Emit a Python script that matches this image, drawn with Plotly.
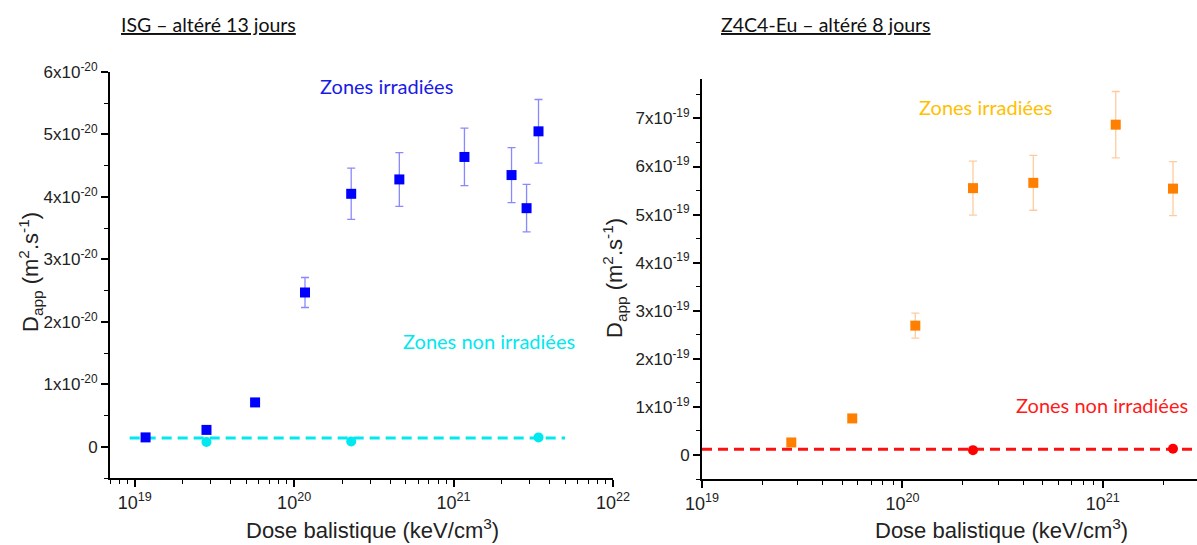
import numpy as np
import plotly.graph_objects as go

# ---------------- data ----------------
# Left panel: ISG - altéré 13 jours
isg_irr_dose = [1.17e19, 2.82e19, 5.69e19, 1.17e20, 2.28e20, 4.57e20, 1.17e21, 2.31e21, 2.87e21, 3.41e21]
isg_irr_d = [0.15e-20, 0.27e-20, 0.71e-20, 2.47e-20, 4.05e-20, 4.28e-20, 4.64e-20, 4.35e-20, 3.82e-20, 5.05e-20]
isg_irr_err = [0, 0, 0, 0.24e-20, 0.41e-20, 0.43e-20, 0.46e-20, 0.44e-20, 0.38e-20, 0.51e-20]
isg_non_dose = [2.82e19, 2.28e20, 3.41e21]
isg_non_d = [0.075e-20, 0.085e-20, 0.15e-20]
isg_line_dose = [9.3e18, 5.0e21]
isg_line_d = [0.14e-20, 0.14e-20]

# Right panel: Z4C4-Eu - altéré 8 jours
z4_irr_dose = [2.79e19, 5.62e19, 1.16e20, 2.25e20, 4.50e20, 1.16e21, 2.24e21]
z4_irr_d = [0.26e-19, 0.76e-19, 2.69e-19, 5.55e-19, 5.66e-19, 6.87e-19, 5.54e-19]
z4_irr_err = [0, 0, 0.26e-19, 0.56e-19, 0.57e-19, 0.69e-19, 0.56e-19]
z4_non_dose = [2.25e20, 2.24e21]
z4_non_d = [0.10e-19, 0.13e-19]
z4_line_dose = [1.0e19, 3.0e21]
z4_line_d = [0.12e-19, 0.12e-19]

# tick labels
left_yvals = [0, 1e-20, 2e-20, 3e-20, 4e-20, 5e-20, 6e-20]
left_ytext = ["0"] + [f"{k}x10<sup>-20</sup>" for k in range(1, 7)]
right_yvals = [0, 1e-19, 2e-19, 3e-19, 4e-19, 5e-19, 6e-19, 7e-19]
right_ytext = ["0"] + [f"{k}x10<sup>-19</sup>" for k in range(1, 8)]
left_xvals = [1e19, 1e20, 1e21, 1e22]
left_xtext = ["10<sup>19</sup>", "10<sup>20</sup>", "10<sup>21</sup>", "10<sup>22</sup>"]
right_xvals = [1e19, 1e20, 1e21]
right_xtext = ["10<sup>19</sup>", "10<sup>20</sup>", "10<sup>21</sup>"]

W, H = 1197, 545
AX_FONT = "Liberation Sans, Arial, sans-serif"
TXT_FONT = "Lato, Open Sans, sans-serif"
AX_COL = "#222222"

fig = go.Figure()

# ---- left panel ----
fig.add_trace(go.Scatter(
    x=isg_line_dose, y=isg_line_d, mode="lines",
    line=dict(color="#00E8F0", width=3, dash="10px,6px"),
    xaxis="x", yaxis="y", showlegend=False, hoverinfo="skip"))
fig.add_trace(go.Scatter(
    x=isg_non_dose, y=isg_non_d, mode="markers",
    marker=dict(symbol="circle", size=10, color="#00E8F0"),
    xaxis="x", yaxis="y", showlegend=False))
fig.add_trace(go.Scatter(
    x=isg_irr_dose, y=isg_irr_d, mode="markers",
    marker=dict(symbol="square", size=10, color="#0000FF"),
    error_y=dict(type="data", array=isg_irr_err, visible=True,
                 color="rgba(40,40,255,0.55)", thickness=1.3, width=4),
    xaxis="x", yaxis="y", showlegend=False))

# ---- right panel ----
fig.add_trace(go.Scatter(
    x=z4_line_dose, y=z4_line_d, mode="lines",
    line=dict(color="#FF1010", width=3, dash="10px,6px"),
    xaxis="x2", yaxis="y2", showlegend=False, hoverinfo="skip"))
fig.add_trace(go.Scatter(
    x=z4_non_dose, y=z4_non_d, mode="markers",
    marker=dict(symbol="circle", size=10, color="#FF0000"),
    xaxis="x2", yaxis="y2", showlegend=False))
fig.add_trace(go.Scatter(
    x=z4_irr_dose, y=z4_irr_d, mode="markers",
    marker=dict(symbol="square", size=10, color="#FF8000"),
    error_y=dict(type="data", array=z4_irr_err, visible=True,
                 color="rgba(255,140,40,0.45)", thickness=1.3, width=4),
    xaxis="x2", yaxis="y2", showlegend=False))

def xax(domain, rng, vals, text):
    return dict(
        type="log", domain=domain, range=rng, automargin=False,
        tickvals=vals, ticktext=text, ticks="outside", ticklen=7, tickwidth=1.5,
        tickcolor="black",
        minor=dict(ticks="outside", ticklen=4, tickwidth=1.2, tickcolor="black", dtick="D1", showgrid=False),
        showline=True, linecolor="black", linewidth=2, showgrid=False, zeroline=False,
        tickfont=dict(family=AX_FONT, size=18, color=AX_COL))

def yax(domain, rng, vals, text, minor_step):
    return dict(
        domain=domain, range=rng, automargin=False,
        tickvals=vals, ticktext=text, ticks="outside", ticklen=7, tickwidth=1.5,
        tickcolor="black",
        minor=dict(ticks="outside", ticklen=4, tickwidth=1.2, tickcolor="black", dtick=minor_step, tick0=0, showgrid=False),
        showline=True, linecolor="black", linewidth=2, showgrid=False, zeroline=False,
        tickfont=dict(family=AX_FONT, size=17, color=AX_COL))

lx0, lx1 = 110 / W, 613 / W
rx0, rx1 = 702 / W, 1.0
ly0, ly1 = 1 - 478 / H, 1 - 72 / H
ry0, ry1 = 1 - 479 / H, 1 - 79 / H

xl = xax([lx0, lx1], [np.log10(7.0e18), 22], left_xvals, left_xtext)
xl["anchor"] = "y"
xr = xax([rx0, rx1], [19, 21.47], right_xvals, right_xtext)
xr["anchor"] = "y2"
yl = yax([ly0, ly1], [-0.5e-20, 6e-20], left_yvals, left_ytext, 0.5e-20)
yl["anchor"] = "x"
yr = yax([ry0, ry1], [-0.5e-19, 7.82e-19], right_yvals, right_ytext, 0.5e-19)
yr["anchor"] = "x2"

fig.update_layout(
    width=W, height=H, margin=dict(l=0, r=0, t=0, b=0, pad=0, autoexpand=False),
    paper_bgcolor="white", plot_bgcolor="white",
    xaxis=xl, yaxis=yl, xaxis2=xr, yaxis2=yr,
    showlegend=False,
)

def ann(text, x, y, size, color, family=TXT_FONT, angle=0):
    fig.add_annotation(text=text, x=x / W, y=1 - y / H, xref="paper", yref="paper",
                       showarrow=False, textangle=angle,
                       font=dict(family=family, size=size, color=color),
                       xanchor="center", yanchor="middle")

# titles
ann("<u>ISG – altéré 13 jours</u>", 208, 24, 19.5, "#111111")
ann("<u>Z4C4-Eu – altéré 8 jours</u>", 826, 24, 19.5, "#111111")
# zone labels
ann("Zones irradiées", 386, 86, 20, "#1A1AE6")
ann("Zones non irradiées", 489, 341, 20, "#00E8F0")
ann("Zones irradiées", 985, 107, 20, "#FFC000")
ann("Zones non irradiées", 1102, 405, 20, "#FF1A1A")
# axis titles
ann("Dose balistique (keV/cm<sup>3</sup>)", 372, 529, 22, AX_COL, AX_FONT)
ann("Dose balistique (keV/cm<sup>3</sup>)", 1001, 529, 22, AX_COL, AX_FONT)
ann("D<sub>app</sub> (m<sup>2</sup>.s<sup>-1</sup>)", 30, 272, 22, AX_COL, AX_FONT, -90)
ann("D<sub>app</sub> (m<sup>2</sup>.s<sup>-1</sup>)", 614, 278, 22, AX_COL, AX_FONT, -90)

fig.write_html(
    "out.html",
    config={"displayModeBar": False},
    post_script="document.body.style.margin='0';document.body.style.overflow='hidden';",
)
